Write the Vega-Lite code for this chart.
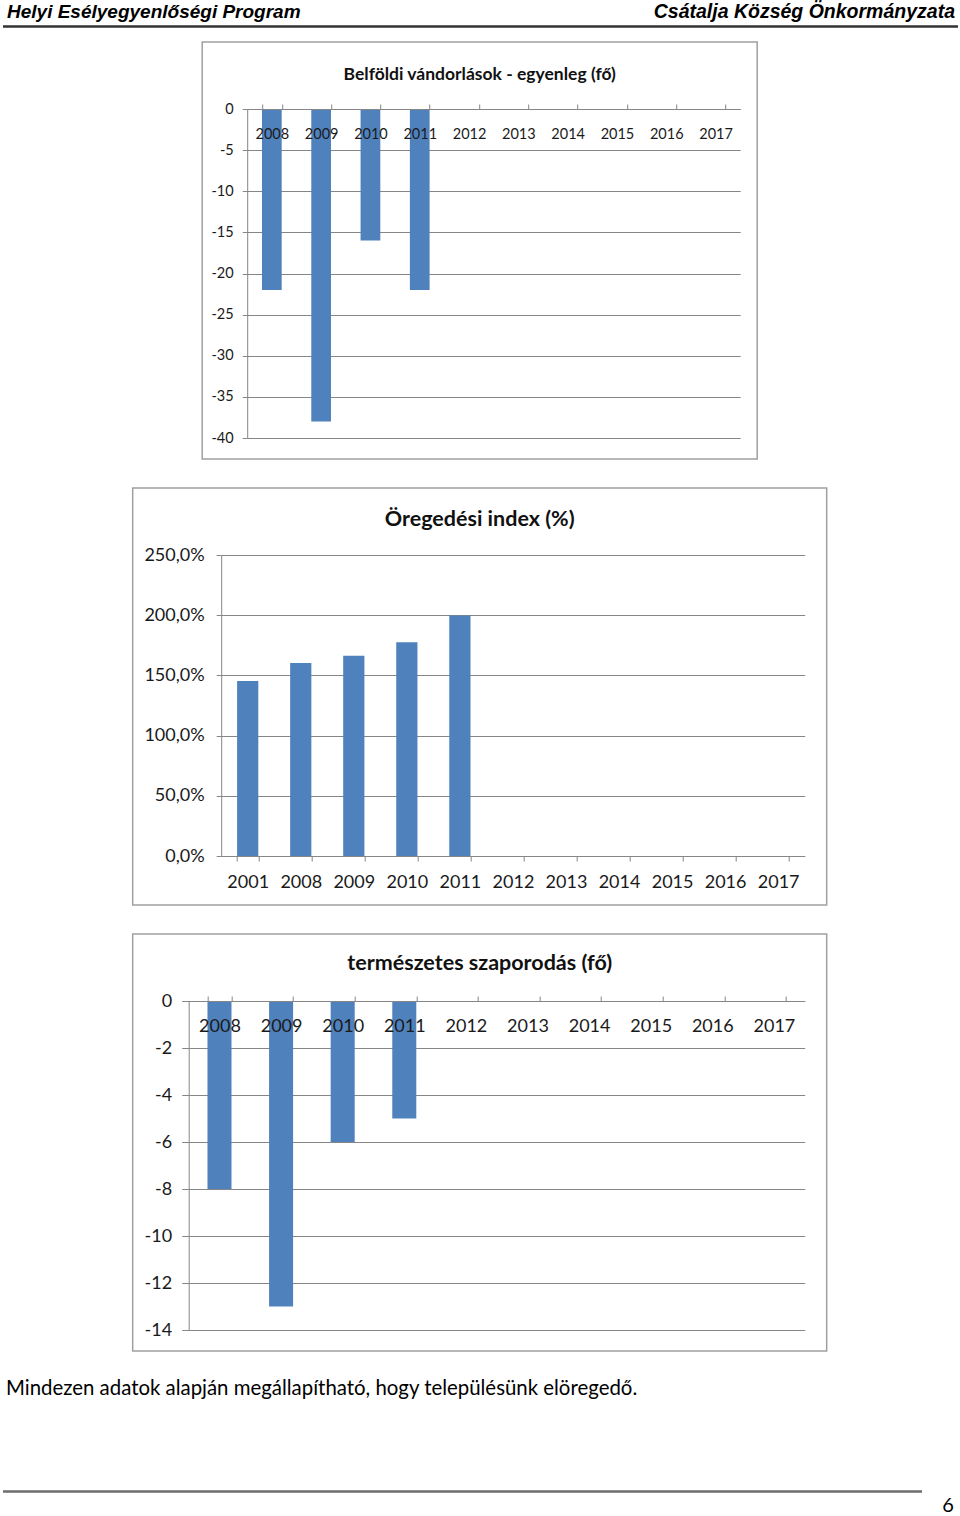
{
  "$schema": "https://vega.github.io/schema/vega-lite/v6.json",
  "padding": 0,
  "autosize": {"type": "pad"},
  "center": true,
  "spacing": 13,
  "background": "white",
  "config": {
    "font": "Lato",
    "axis": {"title": null, "labelOverlap": false, "labelBound": false, "domainColor": "#868686", "tickColor": "#868686", "gridColor": "#868686", "gridWidth": 1, "labelColor": "#1a1a1a"}
  },
  "vconcat": [
    {
      "width": 960,
      "height": 27,
      "view": {"stroke": null},
      "data": {"values": [
        {"side": "left", "label": "Helyi Esélyegyenlőségi Program"},
        {"side": "right", "label": "Csátalja Község Önkormányzata"}
      ]},
      "layer": [
        {
          "transform": [{"filter": "datum.side == 'left'"}],
          "mark": {"type": "text", "align": "left", "baseline": "middle", "font": "Liberation Sans", "fontStyle": "italic", "fontWeight": "bold", "fontSize": 19, "color": "black"},
          "encoding": {
            "x": {"datum": 7, "type": "quantitative", "scale": {"domain": [0, 960], "range": [0, 960], "nice": false, "zero": false}, "axis": null},
            "y": {"datum": 12, "type": "quantitative", "scale": {"domain": [0, 27], "range": [0, 27], "nice": false, "zero": false}, "axis": null},
            "text": {"field": "label"}
          }
        },
        {
          "transform": [{"filter": "datum.side == 'right'"}],
          "mark": {"type": "text", "align": "right", "baseline": "middle", "font": "Liberation Sans", "fontStyle": "italic", "fontWeight": "bold", "fontSize": 19.5, "color": "black"},
          "encoding": {
            "x": {"datum": 955, "type": "quantitative"},
            "y": {"datum": 12, "type": "quantitative"},
            "text": {"field": "label"}
          }
        },
        {
          "mark": {"type": "rule", "color": "#333333", "strokeWidth": 2},
          "encoding": {
            "x": {"datum": 3, "type": "quantitative"},
            "x2": {"datum": 958},
            "y": {"datum": 26.5, "type": "quantitative"}
          }
        }
      ]
    },
    {
      "spacing": 27,
      "center": true,
      "vconcat": [
        {
          "width": 555,
          "height": 417,
          "view": {"stroke": "#a0a0a0", "strokeWidth": 1.5, "fill": "white"},
          "title": {"text": "Belföldi vándorlások - egyenleg (fő)", "anchor": "middle", "frame": "group", "offset": -41, "font": "Lato", "fontSize": 17.5, "fontWeight": "bold", "color": "#111111"},
          "data": {"values": [
            {"year": "2008", "value": -22},
            {"year": "2009", "value": -38},
            {"year": "2010", "value": -16},
            {"year": "2011", "value": -22}
          ]},
          "mark": {"type": "bar", "color": "#4F81BD"},
          "encoding": {
            "x": {
              "field": "year", "type": "ordinal",
              "scale": {"domain": ["2008","2009","2010","2011","2012","2013","2014","2015","2016","2017"], "range": [45, 538], "paddingInner": 0.6, "paddingOuter": 0.3},
              "axis": {"orient": "top", "offset": -67, "tickBand": "extent", "tickSize": 5, "labelPadding": -30, "labelBaseline": "middle", "labelAngle": 0, "labelFont": "Lato", "labelFontSize": 14.5, "zindex": 1, "grid": false}
            },
            "y": {
              "field": "value", "type": "quantitative",
              "scale": {"domain": [-40, 0], "range": [396, 67], "nice": false},
              "axis": {"orient": "left", "offset": -45, "values": [0,-5,-10,-15,-20,-25,-30,-35,-40], "labelExpr": "'' + datum.value", "tickSize": 5, "labelPadding": 9, "labelFont": "Lato", "labelFontSize": 14.5, "grid": true, "zindex": 0}
            }
          }
        },
        {
          "width": 694,
          "height": 417,
          "view": {"stroke": "#a0a0a0", "strokeWidth": 1.5, "fill": "white"},
          "title": {"text": "Öregedési index (%)", "anchor": "middle", "frame": "group", "offset": -42, "font": "Lato", "fontSize": 21.5, "fontWeight": "bold", "color": "#111111"},
          "data": {"values": [
            {"year": "2001", "value": 145.3},
            {"year": "2008", "value": 160.2},
            {"year": "2009", "value": 166.3},
            {"year": "2010", "value": 177.5},
            {"year": "2011", "value": 199.8}
          ]},
          "mark": {"type": "bar", "color": "#4F81BD"},
          "encoding": {
            "x": {
              "field": "year", "type": "ordinal",
              "scale": {"domain": ["2001","2008","2009","2010","2011","2012","2013","2014","2015","2016","2017"], "range": [88.5, 672], "paddingInner": 0.6, "paddingOuter": 0.3},
              "axis": {"orient": "bottom", "offset": -49, "tickBand": "extent", "tickSize": 5, "labelPadding": 21, "labelBaseline": "middle", "labelAngle": 0, "labelFont": "Lato", "labelFontSize": 18, "zindex": 1, "grid": false}
            },
            "y": {
              "field": "value", "type": "quantitative",
              "scale": {"domain": [0, 250], "range": [368, 67], "nice": false},
              "axis": {"orient": "left", "offset": -88.5, "values": [0,50,100,150,200,250], "labelExpr": "replace(format(datum.value, '.1f'), '.', ',') + '%'", "tickSize": 5, "labelPadding": 12, "labelFont": "Lato", "labelFontSize": 18, "grid": true, "zindex": 0}
            }
          }
        },
        {
          "width": 694,
          "height": 417,
          "view": {"stroke": "#a0a0a0", "strokeWidth": 1.5, "fill": "white"},
          "title": {"text": "természetes szaporodás (fő)", "anchor": "middle", "frame": "group", "offset": -40, "font": "Lato", "fontSize": 21.5, "fontWeight": "bold", "color": "#111111"},
          "data": {"values": [
            {"year": "2008", "value": -8},
            {"year": "2009", "value": -13},
            {"year": "2010", "value": -6},
            {"year": "2011", "value": -5}
          ]},
          "mark": {"type": "bar", "color": "#4F81BD"},
          "encoding": {
            "x": {
              "field": "year", "type": "ordinal",
              "scale": {"domain": ["2008","2009","2010","2011","2012","2013","2014","2015","2016","2017"], "range": [56, 672], "paddingInner": 0.61, "paddingOuter": 0.305},
              "axis": {"orient": "top", "offset": -67, "tickBand": "extent", "tickSize": 5, "labelPadding": -30, "labelBaseline": "middle", "labelAngle": 0, "labelFont": "Lato", "labelFontSize": 18, "zindex": 1, "grid": false}
            },
            "y": {
              "field": "value", "type": "quantitative",
              "scale": {"domain": [-14, 0], "range": [396, 67], "nice": false},
              "axis": {"orient": "left", "offset": -56, "values": [0,-2,-4,-6,-8,-10,-12,-14], "labelExpr": "'' + datum.value", "tickSize": 7, "labelPadding": 10, "labelFont": "Lato", "labelFontSize": 18, "grid": true, "zindex": 0}
            }
          }
        }
      ]
    },
    {
      "width": 960,
      "height": 152,
      "view": {"stroke": null},
      "data": {"values": [
        {"kind": "text", "label": "Mindezen adatok alapján megállapítható, hogy településünk elöregedő."},
        {"kind": "page", "label": "6"}
      ]},
      "layer": [
        {
          "transform": [{"filter": "datum.kind == 'text'"}],
          "mark": {"type": "text", "align": "left", "baseline": "middle", "font": "Lato", "fontSize": 20.4, "color": "black"},
          "encoding": {
            "x": {"datum": 6, "type": "quantitative", "scale": {"domain": [0, 960], "range": [0, 960], "nice": false, "zero": false}, "axis": null},
            "y": {"datum": 23.5, "type": "quantitative", "scale": {"domain": [0, 152], "range": [0, 152], "nice": false, "zero": false}, "axis": null},
            "text": {"field": "label"}
          }
        },
        {
          "transform": [{"filter": "datum.kind == 'page'"}],
          "mark": {"type": "text", "align": "center", "baseline": "middle", "font": "Lato", "fontSize": 20, "color": "black"},
          "encoding": {
            "x": {"datum": 948, "type": "quantitative"},
            "y": {"datum": 140.5, "type": "quantitative"},
            "text": {"field": "label"}
          }
        },
        {
          "mark": {"type": "rule", "color": "#6d6d6d", "strokeWidth": 2},
          "encoding": {
            "x": {"datum": 3, "type": "quantitative"},
            "x2": {"datum": 922},
            "y": {"datum": 126.5, "type": "quantitative"}
          }
        }
      ]
    }
  ]
}
